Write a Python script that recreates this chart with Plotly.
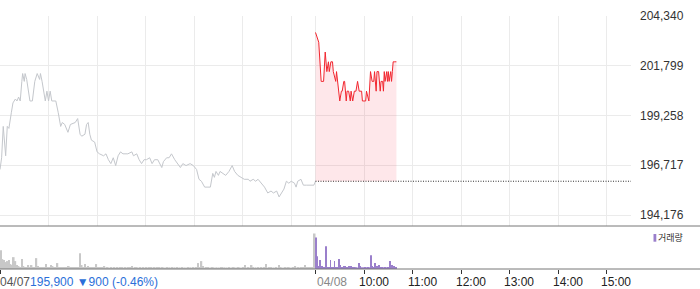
import plotly.graph_objects as go

# ---------------- data ----------------
PREV_CLOSE = 195900
CHANGE = -900
CHANGE_PCT = -0.46

day1_times = ["09:00","09:02","09:04","09:07","09:09","09:11","09:14","09:16","09:19","09:21",
              "09:23","09:25","09:27","09:28","09:30","09:31","09:33","09:35","09:37","09:40",
              "09:43","09:46","09:49","09:50","09:52","09:56","09:58","10:00","10:02","10:04",
              "10:09","10:12","10:15","10:17","10:20","10:24","10:27","10:33","10:36","10:39",
              "10:41","10:45","10:47","10:49","10:51","10:53","10:57","11:00","11:03","11:08",
              "11:11","11:14","11:17","11:20","11:23","11:26","11:29","11:32","11:36","11:38",
              "11:43","11:45","11:49","11:52","11:55","11:58","12:01","12:05","12:08","12:11",
              "12:15","12:20","12:22","12:26","12:29","12:32","12:36","12:40","12:43","12:46",
              "12:50","12:55","12:59","13:03","13:06","13:09","13:13","13:17","13:20","13:23",
              "13:25","13:27","13:30","13:32","13:36","13:39","13:43","13:47","13:50","13:54",
              "13:58","14:02","14:07","14:09","14:13","14:16","14:19","14:23","14:27","14:31",
              "14:35","14:38","14:42","14:45","14:48","14:51","14:54","14:57","15:00","15:04",
              "15:06","15:08","15:12","15:15","15:19","15:25","15:28","15:30"]
day1_prices = [196500,197100,198700,197200,198700,198600,199400,199900,200100,200000,
               200200,200000,201000,201400,201000,201400,201100,200600,200000,200000,
               201000,201400,201100,201400,201000,200000,200500,200000,200500,200000,
               200000,199400,198700,198900,198800,198400,198800,198900,199100,198300,
               198200,198300,198800,198900,198300,198000,197900,197400,197300,197200,
               197300,197000,196800,197100,196700,197200,197400,197300,197300,197300,
               197400,197200,197300,197000,196800,197000,197000,197100,196800,197000,
               197000,196600,196900,197100,197100,197300,197000,196800,196600,196800,
               196700,196800,196700,196500,196000,195900,195600,195600,195600,196300,
               196100,196400,196200,196400,196300,196200,196400,196700,196400,196200,
               196100,196000,196000,195900,196000,195900,196000,195800,195600,195300,
               195400,195300,195400,195100,195300,195500,195900,195800,195900,195800,
               195600,195900,196000,195700,195700,195700,195700,195900]

day2_times = ["09:00","09:04","09:07","09:10","09:12","09:14","09:16","09:17","09:19","09:21",
              "09:22","09:25","09:26","09:29","09:30","09:32","09:33","09:35","09:36","09:38",
              "09:39","09:41","09:43","09:44","09:46","09:48","09:50","09:52","09:54","09:57",
              "09:58","10:02","10:03","10:06","10:08","10:10","10:12","10:13","10:15","10:16",
              "10:18","10:20","10:21","10:23","10:24","10:25","10:26","10:28","10:29","10:30",
              "10:31","10:33","10:34","10:35","10:36","10:38","10:40"]
day2_prices = [203500,203000,201000,201000,202500,201500,202000,201500,202000,202000,
               201500,201000,201500,200500,200000,200500,200500,201000,201000,200000,
               200500,200500,200000,200500,200000,200500,200500,201000,200500,200500,
               200000,200000,200500,200000,201500,201000,201000,201500,200500,201500,
               201500,200500,201000,201000,200500,201500,201000,201500,201000,201500,
               201000,201500,201000,201500,202000,202000,202000]

# volume (thousand shares), 04/07 in 2-minute bins from 09:00, 04/08 in 1-minute bins
day1_vol = [19,10,9,7,8,9,5,4,12,8,
            4,3,2,10,3,2,2,4,2,4,
            2,2,11,3,2,2,2,2,5,2,
            2,4,3,2,2,6,2,2,2,2,
            2,2,3,2,2,2,2,2,2,16,
            4,2,5,2,3,2,2,2,2,5,
            2,2,2,2,3,1,2,1,2,1,
            2,1,2,1,2,2,1,2,1,2,
            2,3,1,2,2,1,2,1,2,1,
            2,1,2,2,1,2,1,2,2,1,
            2,1,1,2,1,1,2,1,1,2,
            1,1,2,1,1,1,2,1,1,2,
            1,2,6,2,8,3,1,2,2,1,
            1,2,1,1,1,1,2,2,1,1,
            1,2,1,1,2,1,1,2,1,1,
            2,4,1,2,1,4,2,1,1,2,
            1,2,1,2,5,1,2,2,1,1,
            2,1,4,2,1,1,2,1,2,1,
            1,2,3,1,2,1,2,2,4,2,
            2,2,2,2,36]
day2_vol = [32,8,13,3,2,9,2,3,2,1,
            2,2,23,2,2,1,2,1,9,2,
            1,2,1,8,2,1,2,1,9,10,
            4,2,1,2,2,3,3,2,2,1,
            2,3,3,2,3,2,1,2,1,1,
            1,0,1,6,3,2,1,1,1,0,
            1,2,1,1,2,1,1,1,14,3,
            1,1,2,6,3,2,3,2,4,2,
            2,1,2,1,1,2,1,1,1,2,
            1,1,8,4,4,2,2,3,1,2]

y_ticks = [194176, 196717, 199258, 201799, 204340]
day2_hour_labels = ["04/08", "10:00", "11:00", "12:00", "13:00", "14:00", "15:00"]
day1_hour_labels = ["10:00", "11:00", "12:00", "13:00", "14:00", "15:00"]
day1_label = "04/07"
volume_label = "거래량"

SESSION = 390  # minutes 09:00-15:30


def to_x(t, day):
    h, m = map(int, t.split(":"))
    return (h - 9) * 60 + m + day * SESSION


x1 = [to_x(t, 0) for t in day1_times]
x2 = [to_x(t, 1) for t in day2_times]
vx1 = [2 * i + 1 for i in range(len(day1_vol))]
vx2 = [SESSION + i + 0.5 for i in range(len(day2_vol))]
grid_x = [0] + [to_x(t, 0) for t in day1_hour_labels] + [to_x("09:00", 1)] + \
         [to_x(t, 1) for t in day2_hour_labels[1:]]
tick2_x = [0, to_x("09:00", 1)] + [to_x(t, 1) for t in day2_hour_labels[1:]]
XMAX = 2 * SESSION

FONT = "Liberation Sans, Arial, sans-serif"
GREY_LINE = "#c4c7cc"
RED = "#f2262f"
PURPLE = "#9a7fcb"
BLUE = "#2b6fd9"

fig = go.Figure()

fig.add_trace(go.Scatter(x=x1, y=day1_prices, mode="lines",
                         line=dict(color=GREY_LINE, width=1), xaxis="x", yaxis="y",
                         hoverinfo="skip"))
fig.add_trace(go.Scatter(x=[x2[0], XMAX], y=[PREV_CLOSE, PREV_CLOSE], mode="lines",
                         line=dict(color="#333333", width=1, dash="1px,1.5px"),
                         xaxis="x", yaxis="y", hoverinfo="skip"))
fig.add_trace(go.Scatter(x=x2, y=[PREV_CLOSE] * len(x2), mode="lines",
                         line=dict(width=0, color="rgba(0,0,0,0)"), xaxis="x", yaxis="y",
                         hoverinfo="skip"))
fig.add_trace(go.Scatter(x=x2, y=day2_prices, mode="lines", fill="tonexty",
                         fillcolor="rgba(245,40,60,0.11)",
                         line=dict(color=RED, width=1), xaxis="x", yaxis="y"))

fig.add_trace(go.Bar(x=vx1, y=day1_vol, width=2, marker=dict(color="#c8c8c8", line=dict(width=0)),
                     xaxis="x2", yaxis="y2", hoverinfo="skip"))
fig.add_trace(go.Bar(x=vx2, y=day2_vol, width=1.15, marker=dict(color=PURPLE, line=dict(width=0)),
                     xaxis="x2", yaxis="y2", hoverinfo="skip"))

W, H = 700, 289
ML, MR, MT, MB = 0, 69, 16, 20
PW = W - ML - MR
PH = H - MT - MB


def py(pix):  # pixel y -> paper y
    return (H - MB - pix) / PH


def px(pix):  # pixel x -> paper x
    return (pix - ML) / PW


top_bottom = py(226)

fig.update_layout(
    width=W, height=H,
    margin=dict(l=ML, r=MR, t=MT, b=MB),
    paper_bgcolor="white", plot_bgcolor="white",
    showlegend=False, barmode="overlay",
    font=dict(family=FONT, size=12, color="#333333"),
    xaxis=dict(domain=[0, 1], range=[0, XMAX], anchor="y", tickvals=grid_x,
               showticklabels=False, showgrid=True, gridcolor="#ebebeb", gridwidth=1,
               zeroline=False, showline=False, ticks=""),
    yaxis=dict(domain=[top_bottom, 1], range=[193614, y_ticks[-1]], side="right",
               anchor="x", tickvals=y_ticks, ticktext=[f"{v:,}" for v in y_ticks],
               showgrid=True, gridcolor="#ebebeb", zeroline=False, showline=False,
               ticks="", ticklabelstandoff=8,
               tickfont=dict(family=FONT, size=12, color="#333333")),
    xaxis2=dict(domain=[0, 1], range=[0, XMAX], anchor="y2", tickvals=tick2_x,
                showticklabels=False, showgrid=False, zeroline=False, showline=False,
                ticks="outside", ticklen=4, tickcolor="#333333", tickwidth=1),
    yaxis2=dict(domain=[0, top_bottom - 0.002], range=[0, 43], anchor="x2",
                showticklabels=False, showgrid=False, zeroline=False, showline=False),
)

shapes = [
    dict(type="line", xref="paper", yref="paper", x0=px(0), x1=px(W), y0=top_bottom, y1=top_bottom,
         line=dict(color="#777777", width=1)),
    dict(type="line", xref="paper", yref="paper", x0=px(0), x1=px(W), y0=0, y1=0,
         line=dict(color="#777777", width=1)),
    dict(type="rect", xref="paper", yref="paper", x0=px(653.5), x1=px(656.3),
         y0=py(241.7), y1=py(234), fillcolor=PURPLE, line=dict(width=0)),
]
fig.update_layout(shapes=shapes)

label_y = py(282)
annotations = [
    dict(xref="paper", yref="paper", x=0, y=label_y, xanchor="left", yanchor="middle",
         xshift=-2, showarrow=False,
         text=(f"<span style='color:#555555'>{day1_label}</span>"
               f"<span style='color:{BLUE}'>{PREV_CLOSE:,} ▼{abs(CHANGE):,} ({CHANGE_PCT:.2f}%)</span>"),
         font=dict(family=FONT, size=12)),
    dict(xref="paper", yref="paper", x=px(658), y=py(237.5), xanchor="left", yanchor="middle",
         xshift=-2, showarrow=False, text=volume_label,
         font=dict(family="Noto Sans CJK KR", size=9, color="#333333")),
]
for i, lab in enumerate(day2_hour_labels):
    xv = tick2_x[i + 1]
    annotations.append(dict(
        xref="x2", yref="paper", x=xv, y=label_y, xanchor="center", yanchor="middle",
        xshift=16.5 if i == 0 else 9.5, showarrow=False, text=lab,
        font=dict(family=FONT, size=12, color="#888888" if i == 0 else "#222222")))
fig.update_layout(annotations=annotations)

fig.write_html("out.html")
